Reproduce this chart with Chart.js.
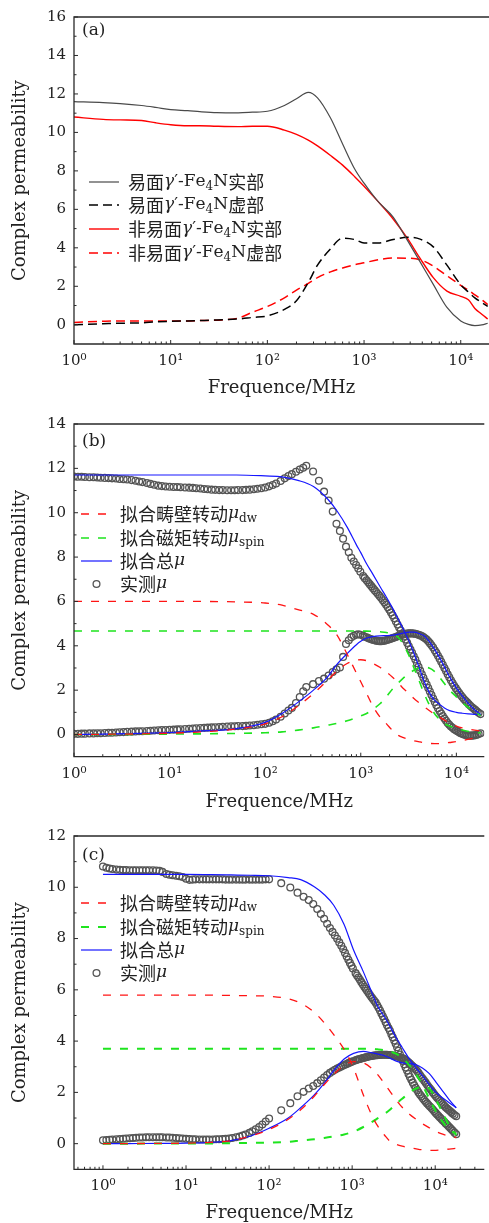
<!DOCTYPE html>
<html>
<head>
<meta charset="utf-8">
<script src="https://cdn.jsdelivr.net/npm/chart.js@4.4.0/dist/chart.umd.min.js"></script>
<style>
  html, body { margin: 0; padding: 0; background: #fff; }
  body { width: 489px; height: 1223px; position: relative; overflow: hidden; }
  canvas { position: absolute; left: 0; }
</style>
</head>
<body>
<canvas id="chartA" width="489" height="405" style="top:0px"></canvas>
<canvas id="chartB" width="489" height="410" style="top:405px"></canvas>
<canvas id="chartC" width="489" height="408" style="top:815px"></canvas>
<script>
// ---------- panel (a): measured spectra ----------
var freqA = [1, 2, 3, 5, 7, 10, 15, 20, 30, 50, 70, 100, 150, 200, 265, 330, 450, 600, 800, 1000, 1400, 2000, 2800, 3800, 5200, 7200, 10000, 12000, 14000, 16500, 19000];
var easyReal = [11.6, 11.55, 11.5, 11.4, 11.3, 11.18, 11.13, 11.08, 11.03, 11.02, 11.05, 11.1, 11.4, 11.75, 12.08, 11.8, 10.75, 9.4, 8.1, 7.36, 6.4, 5.6, 4.4, 3.27, 2.1, 0.9, 0.2, 0.02, -0.04, -0.01, 0.08];
var easyImag = [0.0, 0.05, 0.08, 0.1, 0.15, 0.18, 0.2, 0.22, 0.25, 0.3, 0.38, 0.46, 0.8, 1.25, 2.2, 3.1, 3.95, 4.5, 4.43, 4.25, 4.25, 4.43, 4.55, 4.45, 4.05, 3.1, 2.08, 1.7, 1.4, 1.15, 0.95];
var hardReal = [10.8, 10.68, 10.65, 10.62, 10.5, 10.4, 10.35, 10.35, 10.32, 10.3, 10.32, 10.32, 10.12, 9.9, 9.6, 9.3, 8.8, 8.3, 7.7, 7.2, 6.4, 5.5, 4.5, 3.45, 2.45, 1.75, 1.48, 1.3, 0.85, 0.55, 0.3];
var hardImag = [0.12, 0.18, 0.2, 0.2, 0.2, 0.2, 0.2, 0.22, 0.24, 0.35, 0.65, 0.95, 1.4, 1.8, 2.15, 2.45, 2.75, 2.95, 3.12, 3.22, 3.38, 3.47, 3.46, 3.38, 3.05, 2.55, 2.05, 1.8, 1.55, 1.3, 1.05];
var labelsA = ['易面γ′-Fe_{4}N实部', '易面γ′-Fe_{4}N虚部', '非易面γ′-Fe_{4}N实部', '非易面γ′-Fe_{4}N虚部'];

// ---------- panel (b): easy-plane sample, measured + fit ----------
var freqMeasB = [1, 1.1, 1.2, 1.3, 1.45, 1.6, 1.75, 1.9, 2.1, 2.3, 2.5, 2.75, 3, 3.3, 3.6, 4, 4.4, 4.8, 5.2, 5.8, 6.3, 6.9, 7.6, 8.3, 9.1, 10, 11, 12, 13, 14.5, 16, 17.5, 19, 21, 23, 25, 27.5, 30, 33, 36, 40, 44, 48, 52, 58, 63, 69, 76, 83, 91, 100, 110, 120, 130, 145, 160, 175, 190, 210, 230, 250, 269,
  317, 365, 413, 461, 509, 557, 605, 653, 701, 749, 797, 845, 893, 941, 989,
  1060, 1100, 1150, 1195, 1240, 1290, 1340, 1395, 1450, 1510, 1570, 1635, 1700, 1770, 1840, 1915, 1990, 2070, 2150, 2240,
  2330, 2425, 2520, 2620, 2720, 2830, 2940, 3060, 3180, 3310, 3440, 3580, 3720, 3870, 4020, 4180, 4350, 4520, 4700, 4890,
  5080, 5280, 5490, 5710, 5940, 6180, 6420, 6680, 6940, 7210, 7500, 7800, 8110, 8430, 8770, 9120, 9480, 9860, 10250, 10660,
  11080, 11520, 11980, 12460, 12950, 13470, 14000, 14560, 15140, 15740, 16370, 17100, 17900];
var measRealB = [11.63, 11.62, 11.62, 11.61, 11.6, 11.6, 11.59, 11.58, 11.57, 11.56, 11.55, 11.54, 11.52, 11.51, 11.5, 11.47, 11.44, 11.41, 11.38, 11.34, 11.3, 11.26, 11.22, 11.2, 11.18, 11.17, 11.16, 11.16, 11.15, 11.14, 11.13, 11.12, 11.1, 11.09, 11.07, 11.06, 11.04, 11.03, 11.02, 11.02, 11.01, 11.01, 11.01, 11.02, 11.02, 11.03, 11.04, 11.06, 11.08, 11.1, 11.14, 11.19, 11.25, 11.32, 11.43, 11.55, 11.65, 11.74, 11.85, 11.95, 12.03, 12.12,
  11.86, 11.44, 10.95, 10.55, 10.05, 9.5, 9.18, 8.83, 8.47, 8.22, 7.97, 7.8, 7.64, 7.49, 7.34,
  7.15, 7.05, 6.95, 6.86, 6.78, 6.69, 6.6, 6.51, 6.42, 6.33, 6.25, 6.15, 6.05, 5.95, 5.85, 5.74, 5.62, 5.5, 5.38, 5.24,
  5.1, 4.96, 4.82, 4.69, 4.55, 4.42, 4.28, 4.13, 3.98, 3.83, 3.68, 3.53, 3.38, 3.21, 3.05, 2.88, 2.72, 2.56, 2.4, 2.25,
  2.1, 1.94, 1.78, 1.62, 1.47, 1.32, 1.18, 1.06, 0.95, 0.83, 0.72, 0.62, 0.52, 0.44, 0.36, 0.3, 0.24, 0.19, 0.15, 0.1,
  0.06, 0.03, 0.0, -0.02, -0.04, -0.05, -0.05, -0.05, -0.04, -0.03, -0.01, 0.02, 0.06];
var measImagB = [0.03, 0.03, 0.04, 0.04, 0.05, 0.05, 0.06, 0.06, 0.07, 0.08, 0.08, 0.09, 0.1, 0.11, 0.12, 0.13, 0.14, 0.15, 0.15, 0.16, 0.17, 0.18, 0.19, 0.2, 0.2, 0.21, 0.22, 0.23, 0.24, 0.25, 0.26, 0.27, 0.28, 0.29, 0.3, 0.31, 0.32, 0.33, 0.34, 0.35, 0.36, 0.37, 0.37, 0.38, 0.38, 0.39, 0.41, 0.42, 0.44, 0.46, 0.48, 0.53, 0.6, 0.68, 0.8, 0.95, 1.08, 1.2, 1.42, 1.69, 1.95, 2.14,
  2.27, 2.41, 2.52, 2.66, 2.82, 2.94, 3.02, 3.5, 4.08, 4.25, 4.38, 4.45, 4.5, 4.52, 4.5,
  4.45, 4.41, 4.38, 4.35, 4.32, 4.29, 4.27, 4.25, 4.23, 4.22, 4.21, 4.21, 4.22, 4.23, 4.25, 4.27, 4.3, 4.32, 4.35, 4.37,
  4.4, 4.43, 4.46, 4.48, 4.5, 4.52, 4.54, 4.55, 4.56, 4.56, 4.56, 4.55, 4.54, 4.52, 4.5, 4.47, 4.44, 4.39, 4.34, 4.28,
  4.2, 4.12, 4.02, 3.92, 3.8, 3.68, 3.55, 3.42, 3.28, 3.14, 3.0, 2.86, 2.72, 2.58, 2.45, 2.32, 2.2, 2.09, 1.98, 1.88,
  1.78, 1.69, 1.6, 1.52, 1.45, 1.37, 1.3, 1.23, 1.17, 1.11, 1.05, 0.98, 0.92];

var freqFitB = [1, 2, 5, 10, 20, 50, 100, 150, 220, 320, 450, 560, 720, 900, 1000, 1150, 1350, 1600, 1850, 2150, 2500, 2750, 3200, 3600, 4100, 4600, 5200, 5900, 6600, 7500, 8500, 10000, 11500, 13500, 15500, 18000];
var dwRealB = [6.0, 6.0, 6.0, 6.0, 6.0, 5.98, 5.93, 5.83, 5.63, 5.42, 4.95, 4.5, 3.62, 2.77, 2.38, 1.85, 1.25, 0.77, 0.49, 0.18, -0.05, -0.13, -0.22, -0.28, -0.33, -0.37, -0.4, -0.41, -0.41, -0.39, -0.36, -0.32, -0.27, -0.21, -0.16, -0.12];
var dwImagB = [0.0, 0.01, 0.03, 0.06, 0.11, 0.25, 0.48, 0.8, 1.28, 1.85, 2.45, 2.85, 3.2, 3.35, 3.37, 3.33, 3.2, 3.02, 2.82, 2.58, 2.3, 2.1, 1.85, 1.62, 1.42, 1.25, 1.08, 0.92, 0.8, 0.65, 0.52, 0.38, 0.3, 0.24, 0.2, 0.17];
var spinRealB = [4.67, 4.67, 4.67, 4.67, 4.67, 4.67, 4.67, 4.67, 4.67, 4.67, 4.67, 4.67, 4.67, 4.67, 4.66, 4.66, 4.65, 4.63, 4.6, 4.52, 4.35, 4.1, 3.55, 3.0, 2.4, 1.85, 1.35, 0.95, 0.7, 0.5, 0.38, 0.27, 0.2, 0.14, 0.1, 0.07];
var spinImagB = [0.0, 0.005, 0.01, 0.02, 0.03, 0.05, 0.08, 0.12, 0.2, 0.3, 0.42, 0.5, 0.62, 0.76, 0.84, 0.95, 1.15, 1.4, 1.7, 2.05, 2.35, 2.52, 2.75, 2.9, 3.0, 3.03, 3.0, 2.85, 2.6, 2.3, 2.0, 1.7, 1.45, 1.2, 1.02, 0.85];
var totalRealB = [11.7, 11.7, 11.7, 11.7, 11.7, 11.7, 11.66, 11.62, 11.46, 11.18, 10.62, 10.1, 9.35, 8.55, 8.2, 7.7, 7.2, 6.65, 6.2, 5.7, 5.15, 4.8, 4.2, 3.65, 3.0, 2.4, 1.9, 1.55, 1.38, 1.2, 1.08, 1.0, 0.96, 0.93, 0.91, 0.9];
var totalImagB = [0.0, 0.02, 0.05, 0.09, 0.15, 0.27, 0.55, 0.95, 1.45, 2.0, 2.6, 3.15, 3.65, 4.05, 4.2, 4.35, 4.42, 4.45, 4.46, 4.48, 4.53, 4.57, 4.62, 4.62, 4.55, 4.45, 4.2, 3.85, 3.5, 3.05, 2.6, 2.1, 1.75, 1.38, 1.12, 0.9];

// ---------- panel (c): non-easy-plane sample, measured + fit ----------
var freqMeasC = [1, 1.1, 1.2, 1.3, 1.45, 1.6, 1.75, 1.9, 2.1, 2.3, 2.5, 2.75, 3, 3.3, 3.6, 4, 4.4, 4.8, 5.2, 5.8, 6.3, 6.9, 7.6, 8.3, 9.1, 10, 11, 12, 13, 14.5, 16, 17.5, 19, 21, 23, 25, 27.5, 30, 33, 36, 40, 44, 48, 52, 58, 63, 69, 76, 83, 91, 100,
  140, 180, 220, 260, 300, 340, 380, 420, 460, 500, 540, 580, 620, 660, 700, 740, 780, 820, 860, 900, 940, 980, 1020,
  1100, 1145, 1190, 1240, 1290, 1345, 1400, 1455, 1510, 1575, 1640, 1705, 1770, 1845, 1920, 2000, 2080, 2165, 2250, 2340,
  2430, 2530, 2630, 2740, 2850, 2965, 3080, 3210, 3340, 3475, 3610, 3760, 3910, 4070, 4230, 4400, 4580, 4770, 4960, 5160,
  5370, 5590, 5810, 6050, 6290, 6550, 6810, 7090, 7370, 7670, 7980, 8310, 8640, 8990, 9350, 9730, 10120, 10530, 10960, 11400,
  11860, 12340, 12840, 13360, 13900, 14460, 15050, 15660, 16290, 17080, 17900];
var measRealC = [10.81, 10.76, 10.73, 10.71, 10.69, 10.68, 10.67, 10.67, 10.66, 10.66, 10.66, 10.66, 10.66, 10.66, 10.66, 10.66, 10.65, 10.64, 10.6, 10.52, 10.49, 10.47, 10.45, 10.43, 10.4, 10.33, 10.29, 10.3, 10.31, 10.31, 10.31, 10.31, 10.31, 10.31, 10.31, 10.31, 10.31, 10.3, 10.3, 10.3, 10.3, 10.3, 10.3, 10.3, 10.3, 10.3, 10.3, 10.3, 10.3, 10.31, 10.31,
  10.16, 9.99, 9.79, 9.63, 9.5, 9.35, 9.15, 8.96, 8.77, 8.58, 8.41, 8.26, 8.12, 7.99, 7.85, 7.72, 7.58, 7.44, 7.3, 7.17, 7.05, 6.94, 6.83,
  6.65, 6.56, 6.48, 6.39, 6.3, 6.21, 6.12, 6.04, 5.96, 5.88, 5.8, 5.72, 5.65, 5.57, 5.5, 5.4, 5.3, 5.19, 5.08, 4.97,
  4.86, 4.74, 4.62, 4.51, 4.4, 4.27, 4.15, 4.02, 3.9, 3.76, 3.62, 3.48, 3.35, 3.22, 3.1, 2.97, 2.85, 2.72, 2.6, 2.49,
  2.38, 2.28, 2.18, 2.09, 2.0, 1.92, 1.85, 1.77, 1.7, 1.63, 1.57, 1.51, 1.45, 1.39, 1.33, 1.26, 1.2, 1.14, 1.08, 1.02,
  0.96, 0.9, 0.85, 0.79, 0.74, 0.68, 0.62, 0.56, 0.5, 0.43, 0.37];
var measImagC = [0.13, 0.14, 0.15, 0.16, 0.17, 0.18, 0.19, 0.2, 0.21, 0.22, 0.23, 0.24, 0.24, 0.25, 0.25, 0.25, 0.25, 0.25, 0.25, 0.24, 0.24, 0.23, 0.22, 0.21, 0.2, 0.19, 0.18, 0.17, 0.17, 0.16, 0.16, 0.16, 0.16, 0.16, 0.17, 0.17, 0.18, 0.19, 0.2, 0.22, 0.25, 0.28, 0.32, 0.36, 0.42, 0.48, 0.56, 0.65, 0.75, 0.86, 0.98,
  1.3, 1.58, 1.85, 2.02, 2.15, 2.25, 2.36, 2.47, 2.58, 2.68, 2.76, 2.82, 2.88, 2.93, 2.97, 3.01, 3.05, 3.08, 3.11, 3.14, 3.17, 3.19, 3.21,
  3.25, 3.27, 3.29, 3.3, 3.32, 3.34, 3.35, 3.37, 3.38, 3.4, 3.41, 3.42, 3.43, 3.44, 3.45, 3.45, 3.46, 3.46, 3.47, 3.47,
  3.47, 3.47, 3.47, 3.46, 3.46, 3.45, 3.44, 3.43, 3.42, 3.4, 3.39, 3.37, 3.35, 3.33, 3.3, 3.26, 3.22, 3.17, 3.12, 3.07,
  3.02, 2.96, 2.9, 2.83, 2.76, 2.68, 2.6, 2.53, 2.45, 2.38, 2.3, 2.22, 2.15, 2.08, 2.0, 1.93, 1.86, 1.79, 1.73, 1.66,
  1.6, 1.54, 1.48, 1.42, 1.37, 1.32, 1.27, 1.22, 1.17, 1.12, 1.07];

var freqFitC = [1, 2, 5, 10, 20, 35, 60, 100, 170, 240, 350, 460, 600, 800, 1040, 1365, 1700, 2000, 2500, 2800, 3400, 4000, 4900, 5900, 7000, 8500, 10200, 12300, 14700, 17900];
var dwRealC = [5.79, 5.79, 5.79, 5.79, 5.79, 5.78, 5.77, 5.75, 5.65, 5.48, 5.12, 4.72, 4.25, 3.68, 2.95, 1.9, 1.15, 0.72, 0.3, 0.12, -0.03, -0.1, -0.15, -0.2, -0.24, -0.26, -0.26, -0.24, -0.21, -0.18];
var dwImagC = [0.0, 0.005, 0.01, 0.02, 0.05, 0.12, 0.3, 0.55, 0.95, 1.32, 1.85, 2.3, 2.7, 3.05, 3.2, 3.15, 2.95, 2.72, 2.3, 2.08, 1.7, 1.42, 1.15, 0.95, 0.78, 0.62, 0.48, 0.37, 0.3, 0.24];
var spinRealC = [3.7, 3.7, 3.7, 3.7, 3.7, 3.7, 3.7, 3.7, 3.7, 3.7, 3.7, 3.7, 3.7, 3.7, 3.7, 3.7, 3.7, 3.68, 3.64, 3.6, 3.5, 3.35, 3.05, 2.7, 2.3, 1.75, 1.25, 0.85, 0.55, 0.38];
var spinImagC = [0.0, 0.0, 0.005, 0.005, 0.01, 0.02, 0.03, 0.04, 0.07, 0.12, 0.17, 0.22, 0.28, 0.36, 0.47, 0.65, 0.83, 0.98, 1.18, 1.3, 1.56, 1.75, 2.0, 2.15, 2.22, 2.15, 1.72, 1.2, 0.72, 0.33];
var totalRealC = [10.5, 10.5, 10.5, 10.5, 10.49, 10.48, 10.47, 10.45, 10.38, 10.3, 10.02, 9.72, 9.3, 8.55, 7.55, 6.7, 5.95, 5.4, 4.9, 4.62, 4.12, 3.75, 3.3, 2.95, 2.65, 2.3, 2.0, 1.78, 1.6, 1.4];
var totalImagC = [0.0, 0.005, 0.01, 0.02, 0.05, 0.12, 0.3, 0.6, 1.0, 1.4, 1.9, 2.35, 2.85, 3.3, 3.52, 3.6, 3.55, 3.5, 3.42, 3.35, 3.22, 3.15, 3.12, 3.08, 2.95, 2.73, 2.4, 2.05, 1.72, 1.4];

var labelsFit = ['拟合畴壁转动μ_{dw}', '拟合磁矩转动μ_{spin}', '拟合总μ', '实测μ'];

// ---------- axes ----------
var xTicks = [1, 10, 100, 1000, 10000];
var xTickLabels = ['10⁰', '10¹', '10²', '10³', '10⁴'];
var yTicksA = [0, 2, 4, 6, 8, 10, 12, 14, 16];
var yTicksB = [0, 2, 4, 6, 8, 10, 12, 14];
var yTicksC = [0, 2, 4, 6, 8, 10, 12];

var RED = '#ff1414', GREEN = '#1ee41e', BLUE = '#1616ff';

function pts(xs, ys) {
  return xs.map(function(x, i) { return {x: x, y: ys[i]}; });
}
function lineSet(label, xs, ys, color, width, dash) {
  return {
    label: label, data: pts(xs, ys), showLine: true,
    borderColor: color, backgroundColor: color, borderWidth: width,
    borderDash: dash || [], pointRadius: 0, pointHoverRadius: 0,
    cubicInterpolationMode: 'monotone', order: 1
  };
}
function dotSet(label, xs, ys) {
  return {
    label: label, data: pts(xs, ys), showLine: false,
    pointRadius: 3.4, pointHoverRadius: 3.4, pointBorderWidth: 1.3,
    pointBorderColor: '#555', pointBackgroundColor: 'rgba(255,255,255,0)',
    borderColor: '#555', backgroundColor: 'rgba(255,255,255,0)', order: 5
  };
}

// text with _{sub} parts, CJK via Noto, greek italic
function drawRich(ctx, text, x, y, size) {
  var i = 0;
  while (i < text.length) {
    var t, sub = false;
    if (text.substr(i, 2) === '_{') {
      var j = text.indexOf('}', i);
      t = text.slice(i + 2, j); sub = true; i = j + 1;
    } else {
      t = text[i]; i++;
    }
    var yy = y, code = t.charCodeAt(0);
    if (sub) {
      ctx.font = Math.round(size * 0.72) + 'px "DejaVu Serif"';
      yy = y + size * 0.3;
    } else if (code >= 0x2E80) {
      ctx.font = (size + 1) + 'px "Noto Sans CJK SC"';
    } else if (t === 'γ' || t === 'μ') {
      ctx.font = 'italic ' + size + 'px "DejaVu Serif"';
    } else {
      ctx.font = size + 'px "DejaVu Serif"';
    }
    ctx.fillText(t, x, yy);
    x += ctx.measureText(t).width;
  }
}

var panelDecor = {
  id: 'panelDecor',
  afterDraw: function(chart, args, opts) {
    var ctx = chart.ctx, a = chart.chartArea;
    var xs = chart.scales.x, ys = chart.scales.y;
    ctx.save();
    // frame: left, bottom, top
    ctx.strokeStyle = '#2a2a2a';
    ctx.lineWidth = 1.3;
    ctx.setLineDash([]);
    ctx.beginPath();
    ctx.moveTo(a.right, a.top); ctx.lineTo(a.left, a.top);
    ctx.lineTo(a.left, a.bottom); ctx.lineTo(a.right, a.bottom);
    ctx.stroke();
    // inner ticks
    ctx.lineWidth = 1;
    ctx.beginPath();
    var yt = opts.yTicks;
    for (var k = 0; k < yt.length; k++) {
      var p = ys.getPixelForValue(yt[k]);
      ctx.moveTo(a.left, p); ctx.lineTo(a.left + 4, p);
      if (k < yt.length - 1) {
        var q = ys.getPixelForValue((yt[k] + yt[k + 1]) / 2);
        ctx.moveTo(a.left, q); ctx.lineTo(a.left + 2.5, q);
      }
    }
    var d0 = Math.floor(Math.log10(xs.min)), d1 = Math.ceil(Math.log10(xs.max));
    for (var d = d0; d <= d1; d++) {
      for (var m = 1; m <= 9; m++) {
        var v = m * Math.pow(10, d);
        if (v < xs.min || v > xs.max) continue;
        var px = xs.getPixelForValue(v);
        ctx.moveTo(px, a.bottom); ctx.lineTo(px, a.bottom - (m === 1 ? 4 : 2.5));
      }
    }
    ctx.stroke();

    // panel tag
    ctx.fillStyle = '#222';
    ctx.textBaseline = 'middle';
    ctx.textAlign = 'left';
    ctx.font = '17px "DejaVu Serif"';
    ctx.fillText(opts.tag, 82, opts.tagY);

    // legend
    var L = opts.legend, seen = [], row = 0;
    chart.data.datasets.forEach(function(ds) {
      if (seen.indexOf(ds.label) >= 0) return;
      seen.push(ds.label);
      var y = L.rows[row++];
      if (ds.showLine) {
        ctx.strokeStyle = ds.borderColor;
        ctx.lineWidth = ds.borderWidth;
        ctx.setLineDash(ds.borderDash || []);
        ctx.beginPath(); ctx.moveTo(L.x0, y); ctx.lineTo(L.x1, y); ctx.stroke();
        ctx.setLineDash([]);
      } else {
        ctx.strokeStyle = ds.pointBorderColor;
        ctx.lineWidth = ds.pointBorderWidth;
        ctx.beginPath(); ctx.arc((L.x0 + L.x1) / 2, y, ds.pointRadius, 0, Math.PI * 2); ctx.stroke();
      }
      ctx.fillStyle = '#222';
      drawRich(ctx, ds.label, L.tx, y, 17);
    });
    ctx.restore();
  }
};
Chart.register(panelDecor);

var tickFont = {family: 'DejaVu Serif', size: 15};
var titleFont = {family: 'DejaVu Serif', size: 18, lineHeight: 1};

function makeOptions(g) {
  return {
    responsive: false,
    animation: false,
    events: [],
    layout: {padding: {top: g.padTop, bottom: g.padBottom, left: 0, right: 0}},
    plugins: {
      legend: {display: false},
      tooltip: {enabled: false},
      panelDecor: g
    },
    scales: {
      x: {
        type: 'logarithmic', min: g.xMin, max: g.xMax,
        grid: {display: false, drawTicks: false},
        border: {display: false},
        ticks: {
          font: tickFont, color: '#222', padding: 8, maxRotation: 0, autoSkip: false,
          callback: function(v) {
            var i = xTicks.indexOf(v);
            return i < 0 ? '' : xTickLabels[i];
          }
        },
        afterBuildTicks: function(s) { s.ticks = xTicks.map(function(v) { return {value: v}; }); },
        afterFit: function(s) { s.height = g.xHeight; },
        title: {display: true, text: 'Frequence/MHz', font: titleFont, color: '#222', padding: 0}
      },
      y: {
        min: -1, max: g.yMax,
        grid: {display: false, drawTicks: false},
        border: {display: false},
        ticks: {font: tickFont, color: '#222', padding: 8, callback: function(v) { return String(v); }},
        afterBuildTicks: function(s) { s.ticks = g.yTicks.map(function(v) { return {value: v}; }); },
        afterFit: function(s) { s.width = 74; },
        title: {display: true, text: 'Complex permeability', font: titleFont, color: '#222', padding: {top: 11, bottom: 0}}
      }
    }
  };
}

// (a)
new Chart(document.getElementById('chartA'), {
  type: 'scatter',
  data: {datasets: [
    lineSet(labelsA[0], freqA, easyReal, '#4a4a4a', 1.2),
    lineSet(labelsA[1], freqA, easyImag, '#000000', 1.5, [9, 5]),
    lineSet(labelsA[2], freqA, hardReal, '#ff0000', 1.4),
    lineSet(labelsA[3], freqA, hardImag, '#ff0000', 1.5, [9, 5])
  ]},
  options: makeOptions({
    padTop: 11, padBottom: 8, xHeight: 53, xMin: 1, xMax: 19600, yMax: 16, yTicks: yTicksA,
    tag: '(a)', tagY: 31,
    legend: {x0: 89, x1: 119, tx: 128, rows: [182, 205, 229, 253]}
  })
});

// (b)
new Chart(document.getElementById('chartB'), {
  type: 'scatter',
  data: {datasets: [
    lineSet(labelsFit[0], freqFitB, dwRealB, RED, 1.3, [8, 9]),
    lineSet(labelsFit[0], freqFitB, dwImagB, RED, 1.3, [8, 9]),
    lineSet(labelsFit[1], freqFitB, spinRealB, GREEN, 1.6, [8, 9]),
    lineSet(labelsFit[1], freqFitB, spinImagB, GREEN, 1.6, [8, 9]),
    lineSet(labelsFit[2], freqFitB, totalRealB, BLUE, 1.2),
    lineSet(labelsFit[2], freqFitB, totalImagB, BLUE, 1.2),
    dotSet(labelsFit[3], freqMeasB, measRealB),
    dotSet(labelsFit[3], freqMeasB, measImagB)
  ]},
  options: makeOptions({
    padTop: 19, padBottom: 4, xHeight: 54.3, xMin: 1, xMax: 19600, yMax: 14, yTicks: yTicksB,
    tag: '(b)', tagY: 37,
    legend: {x0: 81, x1: 112, tx: 120, rows: [109, 133, 156, 179]}
  })
});

// (c)
new Chart(document.getElementById('chartC'), {
  type: 'scatter',
  data: {datasets: [
    lineSet(labelsFit[0], freqFitC, dwRealC, RED, 1.3, [8, 9]),
    lineSet(labelsFit[0], freqFitC, dwImagC, RED, 1.3, [8, 9]),
    lineSet(labelsFit[1], freqFitC, spinRealC, GREEN, 2, [8, 9]),
    lineSet(labelsFit[1], freqFitC, spinImagC, GREEN, 2, [8, 9]),
    lineSet(labelsFit[2], freqFitC, totalRealC, BLUE, 1.2),
    lineSet(labelsFit[2], freqFitC, totalImagC, BLUE, 1.2),
    dotSet(labelsFit[3], freqMeasC, measRealC),
    dotSet(labelsFit[3], freqMeasC, measImagC)
  ]},
  options: makeOptions({
    padTop: 21, padBottom: 1, xHeight: 52.7, xMin: 0.448, xMax: 39000, yMax: 12, yTicks: yTicksC,
    tag: '(c)', tagY: 40.5,
    legend: {x0: 81, x1: 112, tx: 120, rows: [88, 112, 135, 158]}
  })
});
</script>
</body>
</html>
